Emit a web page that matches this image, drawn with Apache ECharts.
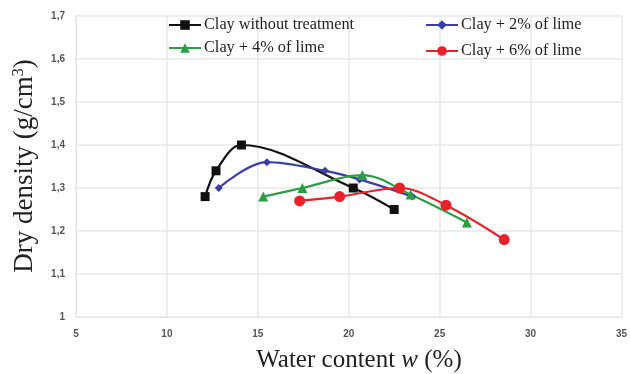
<!DOCTYPE html>
<html>
<head>
<meta charset="utf-8">
<script src="https://cdn.jsdelivr.net/npm/echarts@6/dist/echarts.min.js"></script>
<style>html,body{margin:0;padding:0;background:#fff}#c{width:630px;height:374px}</style>
</head>
<body>
<div id="c"></div>
<script>
var seriesNames = ['Clay without treatment', 'Clay + 2% of lime', 'Clay + 4% of lime', 'Clay + 6% of lime'];
var blackX = [12.1, 12.7, 14.1, 20.25, 22.5];
var blackY = [1.28, 1.34, 1.40, 1.30, 1.25];
var blueX = [12.85, 15.5, 18.7, 20.6, 23.5];
var blueY = [1.30, 1.36, 1.34, 1.32, 1.28];
var greenX = [15.3, 17.45, 20.75, 23.4, 26.5];
var greenY = [1.28, 1.30, 1.33, 1.285, 1.22];
var redX = [17.3, 19.5, 22.8, 25.35, 28.55];
var redY = [1.27, 1.28, 1.30, 1.26, 1.18];
var xTicks = [5, 10, 15, 20, 25, 30, 35];
var yTicks = [1, 1.1, 1.2, 1.3, 1.4, 1.5, 1.6, 1.7];

function pairs(xs, ys) { return xs.map(function (x, i) { return [x, ys[i]]; }); }

var colors = ['#111111', '#3b3fa5', '#2e9e45', '#e8212b'];
var symbols = ['rect', 'diamond', 'triangle', 'circle'];
var sizes = [9, 8, 10, 11];
var datas = [pairs(blackX, blackY), pairs(blueX, blueY), pairs(greenX, greenY), pairs(redX, redY)];

var series = seriesNames.map(function (n, i) {
  return {
    name: n, type: 'line', data: datas[i], smooth: 0.35,
    symbol: symbols[i], symbolSize: sizes[i],
    lineStyle: { color: colors[i], width: 2.2 },
    itemStyle: { color: colors[i] }
  };
});

var legendPos = [[168, 17], [425, 17], [168, 40], [425, 43]];
var legends = seriesNames.map(function (n, i) {
  return {
    data: [n], left: legendPos[i][0], top: legendPos[i][1],
    itemWidth: 32, itemHeight: 12, itemGap: 0, padding: 0,
    selectedMode: false,
    textStyle: { fontFamily: 'Liberation Serif', fontSize: 16.3, color: '#222', padding: [0, 0, 0, -2] }
  };
});

var chart = echarts.init(document.getElementById('c'), null, { renderer: 'canvas' });
chart.setOption({
  animation: false,
  backgroundColor: '#fff',
  grid: { left: 76, right: 7, top: 16, bottom: 57 },
  legend: legends,
  xAxis: {
    type: 'value', min: xTicks[0], max: xTicks[xTicks.length - 1], interval: 5,
    axisLine: { show: true, lineStyle: { color: '#e4e4e4' } },
    axisTick: { show: false },
    splitLine: { show: true, lineStyle: { color: '#e8e8e8', width: 1.5 } },
    axisLabel: { margin: 12, fontFamily: 'Liberation Sans', fontWeight: 'bold', fontSize: 10, color: '#555' }
  },
  yAxis: {
    type: 'value', min: yTicks[0], max: yTicks[yTicks.length - 1], interval: 0.1,
    axisLine: { show: true, lineStyle: { color: '#e4e4e4' } },
    axisTick: { show: false },
    splitLine: { show: true, lineStyle: { color: '#e8e8e8', width: 1.5 } },
    axisLabel: {
      margin: 11, fontFamily: 'Liberation Sans', fontWeight: 'bold', fontSize: 10, color: '#555',
      formatter: function (v) { return Math.abs(v - 1) < 1e-9 ? '1' : v.toFixed(1).replace('.', ','); }
    }
  },
  graphic: [
    {
      type: 'text', x: 25, y: 166, rotation: Math.PI / 2,
      style: {
        text: '{a|Dry density (g/cm}{s|3}{a|)}',
        align: 'center', verticalAlign: 'middle',
        rich: {
          a: { fontFamily: 'Liberation Serif', fontSize: 27, fill: '#222', color: '#222' },
          s: { fontFamily: 'Liberation Serif', fontSize: 16, fill: '#222', color: '#222', verticalAlign: 'top', padding: [0, 0, 12, 0] }
        }
      }
    },
    {
      type: 'text', x: 359, y: 360,
      style: {
        text: '{a|Water content }{i|w}{a| (%)}',
        align: 'center', verticalAlign: 'middle',
        rich: {
          a: { fontFamily: 'Liberation Serif', fontSize: 25, fill: '#222', color: '#222' },
          i: { fontFamily: 'Liberation Serif', fontSize: 25, fontStyle: 'italic', fill: '#222', color: '#222' }
        }
      }
    }
  ],
  series: series
});
</script>
</body>
</html>
